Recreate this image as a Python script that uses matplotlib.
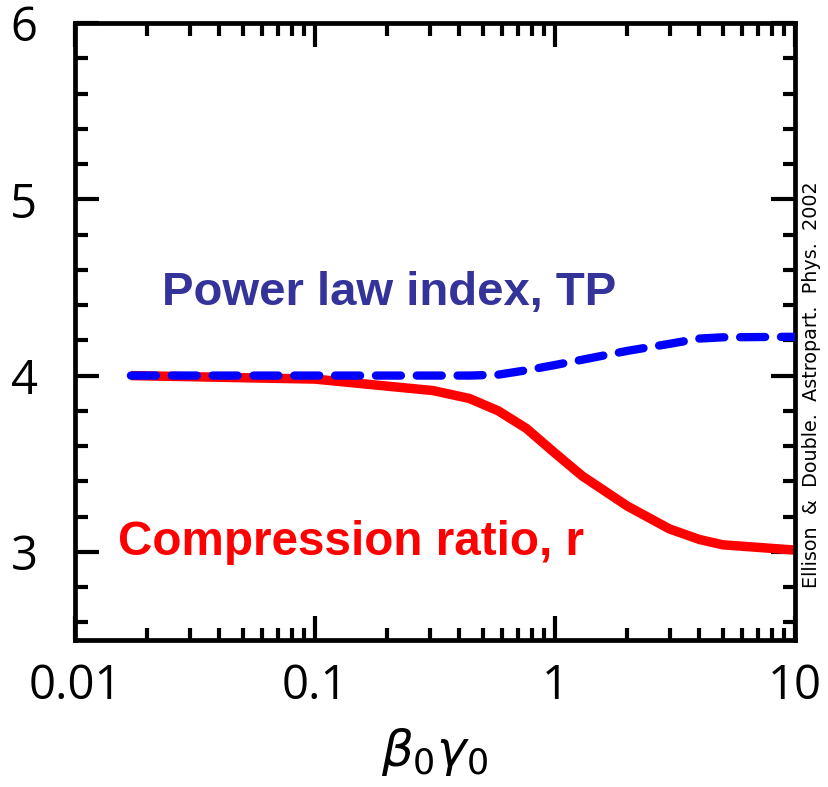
import matplotlib
matplotlib.use("Agg")
import matplotlib.pyplot as plt
from matplotlib.ticker import FixedLocator, NullFormatter, FixedFormatter

# beta0*gamma0 values and the two curves
bg = [0.0171, 0.1, 0.2, 0.31, 0.44, 0.58, 0.76, 1.0, 1.3, 2.0, 3.0, 4.0, 5.0, 10.0]
compression_r = [4.0, 3.98, 3.94, 3.915, 3.87, 3.80, 3.70, 3.56, 3.43, 3.26, 3.13, 3.07, 3.04, 3.01]
power_index = [4.0, 4.0, 4.0, 4.0, 4.0, 4.005, 4.03, 4.06, 4.09, 4.14, 4.18, 4.21, 4.217, 4.22]

x_ticks = [0.01, 0.1, 1, 10]
x_ticklabels = ["0.01", "0.1", "1", "10"]
y_ticks = [3, 4, 5, 6]
y_ticklabels = ["3", "4", "5", "6"]

W, H = 829, 787
fig = plt.figure(figsize=(W / 100, H / 100), dpi=100)
ax = fig.add_axes([75 / W, 1 - 640 / H, (795 - 75) / W, (640 - 23) / H])

ax.plot(bg, compression_r, color="#ff0000", lw=6.8, solid_capstyle="butt",
        solid_joinstyle="miter", zorder=2)
ax.plot(bg, power_index, color="#0000ff", lw=6.0, dashes=(3.0, 1.9),
        dash_capstyle="round", zorder=3)

ax.set_xscale("log")
ax.set_xlim(0.01, 10)
ax.set_ylim(2.5, 6)

minor_x = [m * 10.0 ** e for e in (-2, -1, 0) for m in range(2, 10)]
ax.xaxis.set_major_locator(FixedLocator(x_ticks))
ax.xaxis.set_major_formatter(FixedFormatter(x_ticklabels))
ax.xaxis.set_minor_locator(FixedLocator(minor_x))
ax.xaxis.set_minor_formatter(NullFormatter())
ax.yaxis.set_major_locator(FixedLocator(y_ticks))
ax.yaxis.set_major_formatter(FixedFormatter(y_ticklabels))
ax.yaxis.set_minor_locator(FixedLocator([2.6, 2.8, 3.2, 3.4, 3.6, 3.8, 4.2, 4.4,
                                         4.6, 4.8, 5.2, 5.4, 5.6, 5.8]))

for s in ax.spines.values():
    s.set_linewidth(3.4)
ax.tick_params(which="both", direction="in", top=True, right=True, width=3.0,
               labelsize=34, labelfontfamily="Open Sans")
ax.tick_params(which="major", length=17)
ax.tick_params(which="minor", length=9)
ax.tick_params(axis="y", which="major", pad=27)
ax.tick_params(axis="x", which="major", pad=16)

ax.set_xlabel(r"$\beta_0\gamma_0$", fontsize=36, labelpad=12)

fig.text(162 / W, 1 - 305 / H, "Power law index, TP", color="#333399",
         fontsize=34, fontweight="bold", family="Liberation Sans",
         ha="left", va="baseline")
fig.text(118 / W, 1 - 555 / H, "Compression ratio, r", color="#ff0000",
         fontsize=34.3, fontweight="bold", family="Liberation Sans",
         ha="left", va="baseline")
fig.text(812 / W, 1 - 385 / H, "Ellison  &  Double.  Astropart.  Phys.  2002",
         rotation=90, fontsize=13.8, family="DejaVu Sans", ha="center",
         va="center")

fig.savefig("out.png", dpi=100)
